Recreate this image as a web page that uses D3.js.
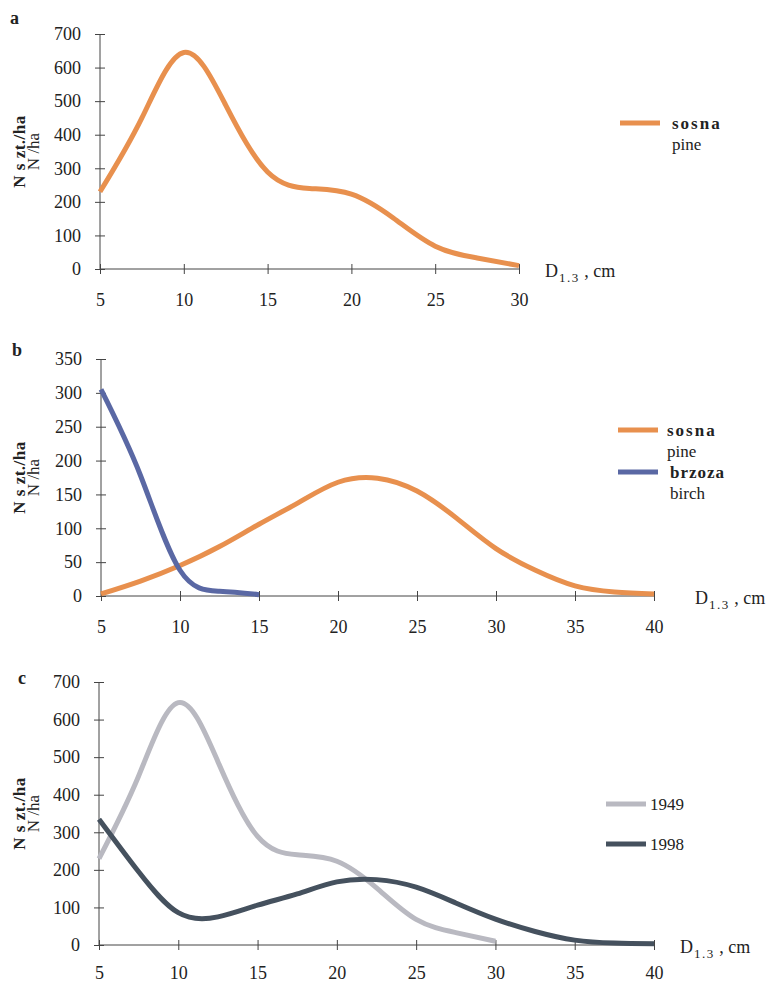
<!DOCTYPE html>
<html>
<head>
<meta charset="utf-8">
<script src="https://cdn.jsdelivr.net/npm/d3@7.9.0/dist/d3.min.js"></script>
<style>
  body { margin: 0; background: #fff; }
  svg, svg text { font-family: "Liberation Serif", "Times New Roman", serif; }
  .axis path, .axis line { stroke: #444; }
  .axis text { font-size: 18px; fill: #222; font-family: "Liberation Serif", serif; }
</style>
</head>
<body>
<svg width="768" height="983"></svg>
<script>
// diameter classes, cm
const dA = [5, 7.5, 10, 12.5, 15, 17.5, 20, 22.5, 25, 27.5, 30];
const sosnaA = [230, 450, 645, 488, 289, 240, 223, 152, 68, 33, 10];

const dPine = [5, 7.5, 10, 12.5, 15, 17.5, 20, 22.5, 25, 27.5, 30, 32.5, 35, 37.5, 40];
const sosnaB = [3, 22, 45, 73, 106, 138, 168, 174, 155, 115, 70, 38, 15, 6, 3];
const dBirch = [5, 7.5, 10, 12.5, 15];
const brzozaB = [305, 178, 38, 7, 2];

const d1998 = [5, 7.5, 10, 12.5, 15, 17.5, 20, 22.5, 25, 27.5, 30, 32.5, 35, 37.5, 40];
const n1998 = [335, 195, 86, 75, 106, 136, 168, 174, 154, 112, 69, 36, 13, 5, 3];

const yTicksA = [0, 100, 200, 300, 400, 500, 600, 700];
const yTicksB = [0, 50, 100, 150, 200, 250, 300, 350];
const xTicksA = [5, 10, 15, 20, 25, 30];
const xTicksB = [5, 10, 15, 20, 25, 30, 35, 40];

const colOrange = '#e8904e';
const colBlue = '#5a68a4';
const colLight = '#b9b9c1';
const colDark = '#45515e';

const svg = d3.select('svg');

function drawPanel(p) {
  const g = svg.append('g');
  const x = d3.scaleLinear().domain([5, p.xMax]).range([p.left, p.right]);
  const y = d3.scaleLinear().domain([0, p.yMax]).range([p.bottom, p.top]);

  const yAxis = d3.axisLeft(y).tickValues(p.yTicks).tickSizeInner(5).tickSizeOuter(0).tickPadding(14);
  const ga = g.append('g').attr('class', 'axis').attr('transform', `translate(${p.left},0)`).call(yAxis);
  ga.attr('font-family', null).attr('font-size', null);
  ga.selectAll('.tick line').attr('x2', 5).attr('x1', -5);
  ga.select('.domain').attr('d', `M0,${p.top}V${p.bottom}`);

  const xAxis = d3.axisBottom(x).tickValues(p.xTicks).tickSizeInner(5).tickSizeOuter(0).tickPadding(p.xPad || 19);
  const gx = g.append('g').attr('class', 'axis').attr('transform', `translate(0,${p.bottom})`).call(xAxis);
  gx.attr('font-family', null).attr('font-size', null);
  gx.selectAll('.tick line').attr('y1', -5).attr('y2', 5);
  gx.select('.domain').attr('d', `M${p.left},0H${p.right}`);

  const line = d3.line().x(d => x(d[0])).y(d => y(d[1])).curve(d3.curveNatural);
  p.series.forEach(s => {
    g.append('path')
      .datum(s.xs.map((v, i) => [v, s.ys[i]]))
      .attr('d', line)
      .attr('fill', 'none')
      .attr('stroke', s.color)
      .attr('stroke-width', 5)
      .attr('stroke-linecap', 'butt');
  });

  // panel letter
  g.append('text').attr('x', p.letterX).attr('y', p.letterY)
    .attr('font-size', 18).attr('font-weight', 'bold').attr('fill', '#222').text(p.letter);

  // y title
  const cy = (p.top + p.bottom) / 2;
  g.append('text').attr('transform', `translate(25,${cy}) rotate(-90)`)
    .attr('text-anchor', 'middle').attr('font-size', 17).attr('font-weight', 'bold').attr('fill', '#222')
    .attr('letter-spacing', 0.5)
    .text('N s zt./ha');
  g.append('text').attr('transform', `translate(39,${cy}) rotate(-90)`)
    .attr('text-anchor', 'middle').attr('font-size', 17).attr('fill', '#222')
    .text('N /ha');

  // x title
  const xt = g.append('text').attr('x', p.xTitleX).attr('y', p.bottom + 8)
    .attr('font-size', 18).attr('fill', '#222');
  xt.append('tspan').text('D');
  xt.append('tspan').attr('font-size', 13).attr('dy', 5).attr('dx', 1).attr('letter-spacing', 1.5).text('1.3');
  xt.append('tspan').attr('dy', -5).text(' , cm');

  // legend
  p.legend.forEach(l => {
    g.append('line').attr('x1', p.legX).attr('x2', p.legX + 40)
      .attr('y1', l.y).attr('y2', l.y).attr('stroke', l.color).attr('stroke-width', 5);
    const tx = p.legX + p.textOff + (l.dx || 0);
    const t1 = g.append('text').attr('x', tx).attr('y', l.y + 6)
      .attr('font-size', 17).attr('fill', '#222').text(l.t1);
    if (l.bold) t1.attr('font-weight', 'bold').attr('letter-spacing', l.ls || 0);
    if (l.t2) {
      g.append('text').attr('x', tx).attr('y', l.y + 27)
        .attr('font-size', 17).attr('fill', '#222').text(l.t2);
    }
  });
}

drawPanel({
  letter: 'a', letterX: 10, letterY: 24,
  left: 100, right: 519, top: 34, bottom: 269, xMax: 30, yMax: 700,
  yTicks: yTicksA, xTicks: xTicksA, xTitleX: 545,
  series: [{ xs: dA, ys: sosnaA, color: colOrange }],
  legX: 620, textOff: 52,
  legend: [{ y: 123, color: colOrange, t1: 'sosna', t2: 'pine', bold: true, ls: 2 }]
});

drawPanel({
  letter: 'b', letterX: 12, letterY: 356,
  left: 101, right: 654, top: 359, bottom: 596, xMax: 40, yMax: 350,
  yTicks: yTicksB, xTicks: xTicksB, xTitleX: 695,
  series: [
    { xs: dPine, ys: sosnaB, color: colOrange },
    { xs: dBirch, ys: brzozaB, color: colBlue }
  ],
  legX: 618, textOff: 49,
  legend: [
    { y: 430, color: colOrange, t1: 'sosna', t2: 'pine', bold: true, ls: 2 },
    { y: 472, color: colBlue, t1: 'brzoza', t2: 'birch', bold: true, ls: 1, dx: 3 }
  ]
});

drawPanel({
  letter: 'c', letterX: 18, letterY: 684,
  left: 99, right: 654, top: 682, bottom: 945, xMax: 40, yMax: 700,
  yTicks: yTicksA, xTicks: xTicksB, xTitleX: 680, xPad: 16,
  series: [
    { xs: dA, ys: sosnaA, color: colLight },
    { xs: d1998, ys: n1998, color: colDark }
  ],
  legX: 606, textOff: 44,
  legend: [
    { y: 804, color: colLight, t1: '1949' },
    { y: 844, color: colDark, t1: '1998' }
  ]
});
</script>
</body>
</html>
